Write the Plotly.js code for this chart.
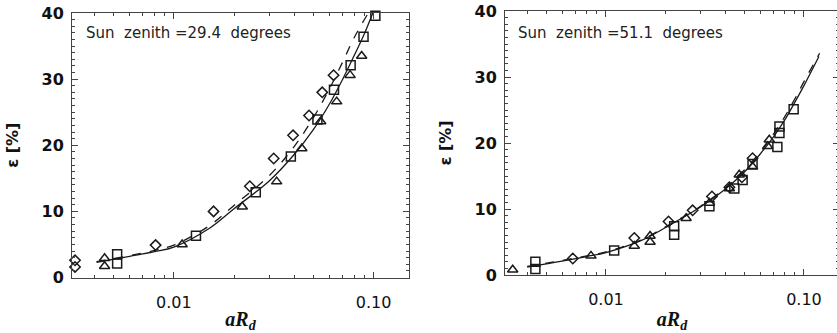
<!DOCTYPE html>
<html>
<head>
<meta charset="utf-8">
<script src="https://cdn.plot.ly/plotly-3.0.1.min.js"></script>
<style>
html,body{margin:0;padding:0;overflow:hidden;background:#fff;}
#chart{width:840px;height:333px;}
</style>
</head>
<body>
<div id="chart"></div>
<script>
// ---- Left panel (sun zenith 29.4) ----
const diamondsL_x = [0.0032, 0.0032, 0.0081, 0.0158, 0.0240, 0.0316, 0.0395, 0.0475, 0.0553, 0.063];
const diamondsL_y = [2.6, 1.6, 4.9, 10.0, 13.8, 18.0, 21.5, 24.5, 28.0, 30.6];
const squaresL_x = [0.0052, 0.0052, 0.0129, 0.0257, 0.0385, 0.0523, 0.0633, 0.0767, 0.089, 0.102];
const squaresL_y = [3.5, 2.1, 6.3, 12.9, 18.3, 23.9, 28.4, 32.1, 36.4, 39.6];
const trianglesL_x = [0.0045, 0.0045, 0.011, 0.022, 0.0327, 0.0437, 0.0543, 0.0653, 0.0762, 0.0871];
const trianglesL_y = [2.9, 1.7, 5.0, 10.7, 14.5, 19.5, 23.6, 26.6, 30.6, 33.5];
const solidL_x = [0.0041, 0.006, 0.008, 0.01, 0.015, 0.02, 0.03, 0.04, 0.05, 0.06, 0.07, 0.08, 0.09, 0.099];
const solidL_y = [2.3, 3.2, 3.9, 4.6, 7.4, 10.4, 14.6, 18.6, 22.4, 26.2, 30.0, 33.6, 36.9, 40.0];
const dashedL_x = [0.0041, 0.006, 0.008, 0.01, 0.015, 0.02, 0.03, 0.04, 0.05, 0.06, 0.07, 0.08, 0.094];
const dashedL_y = [2.4, 3.3, 4.1, 4.9, 7.8, 10.9, 15.4, 19.8, 24.2, 28.5, 32.6, 36.3, 40.0];

// ---- Right panel (sun zenith 51.1) ----
const diamondsR_x = [0.0068, 0.0139, 0.0207, 0.0274, 0.0343, 0.042, 0.0486, 0.055];
const diamondsR_y = [2.5, 5.6, 8.1, 9.8, 11.9, 13.3, 14.8, 17.7];
const squaresR_x = [0.0044, 0.0044, 0.011, 0.0221, 0.0221, 0.0333, 0.0445, 0.049, 0.055, 0.0734, 0.0752, 0.0752, 0.0887];
const squaresR_y = [2.0, 0.9, 3.7, 6.1, 7.4, 10.4, 13.1, 14.4, 16.8, 19.4, 21.5, 22.5, 25.1];
const trianglesR_x = [0.00338, 0.0084, 0.0139, 0.0167, 0.0167, 0.0254, 0.0333, 0.042, 0.0471, 0.055, 0.0656, 0.0668];
const trianglesR_y = [0.8, 2.9, 4.4, 5.9, 5.0, 8.6, 10.9, 13.1, 15.2, 16.4, 19.5, 20.5];
const solidR_x = [0.004, 0.006, 0.008, 0.01, 0.015, 0.02, 0.03, 0.04, 0.05, 0.06, 0.07, 0.08, 0.09, 0.1, 0.119];
const solidR_y = [1.2, 2.1, 2.8, 3.4, 5.2, 7.2, 10.3, 13.0, 15.6, 18.3, 20.9, 23.5, 26.2, 28.7, 33.1];
const dashedR_x = [0.004, 0.006, 0.008, 0.01, 0.015, 0.02, 0.03, 0.04, 0.05, 0.06, 0.07, 0.08, 0.09, 0.1, 0.12];
const dashedR_y = [1.3, 2.2, 2.9, 3.5, 5.3, 7.3, 10.4, 13.2, 15.9, 18.6, 21.3, 24.0, 26.7, 29.3, 33.6];

const panelTitles = ["Sun  zenith =29.4  degrees", "Sun  zenith =51.1  degrees"];
const xTickVals = [0.01, 0.1];
const xTickText = ["0.01", "0.10"];
const yTickVals = [0, 10, 20, 30, 40];

const ink = "#1a1a1a";
function marks(x, y, sym, size, xa, ya) {
  return {x, y, xaxis: xa, yaxis: ya, type: "scatter", mode: "markers", cliponaxis: false,
    marker: {symbol: sym, size: size, color: ink, line: {color: ink, width: 1.5}}, showlegend: false, hoverinfo: "skip"};
}
function curve(x, y, dash, xa, ya) {
  return {x, y, xaxis: xa, yaxis: ya, type: "scatter", mode: "lines",
    line: {color: ink, width: 1.3, dash: dash, shape: "spline", smoothing: 1}, showlegend: false, hoverinfo: "skip"};
}

const data = [
  curve(solidL_x, solidL_y, "solid", "x", "y"),
  curve(dashedL_x, dashedL_y, "dash", "x", "y"),
  marks(diamondsL_x, diamondsL_y, "diamond-open", 8, "x", "y"),
  marks(squaresL_x, squaresL_y, "square-open", 9, "x", "y"),
  marks(trianglesL_x, trianglesL_y, "triangle-up-open", 9, "x", "y"),
  curve(solidR_x, solidR_y, "solid", "x2", "y2"),
  curve(dashedR_x, dashedR_y, "dash", "x2", "y2"),
  marks(diamondsR_x, diamondsR_y, "diamond-open", 8, "x2", "y2"),
  marks(squaresR_x, squaresR_y, "square-open", 9, "x2", "y2"),
  marks(trianglesR_x, trianglesR_y, "triangle-up-open", 9, "x2", "y2")
];

function xAxis(domain, anchor) {
  return {
    type: "log", domain: domain, anchor: anchor, range: [-2.51, -0.823],
    tickvals: xTickVals, ticktext: xTickText, ticks: "inside", ticklen: 6, tickwidth: 1, tickcolor: "#444",
    minor: {ticks: "inside", ticklen: 3, tickcolor: "#444", dtick: "D1", showgrid: false},
    showline: true, linecolor: "#444", linewidth: 1, mirror: "ticks", showgrid: false, zeroline: false,
    tickfont: {family: "DejaVu Sans", size: 16, color: "#111"}, ticklabelstandoff: 10,
    title: {text: "<i>aR</i><sub><i>d</i></sub>", font: {family: "Liberation Serif", size: 20, color: "#111", weight: "bold"}, standoff: 6}
  };
}
function yAxis(domain, anchor) {
  return {
    domain: domain, anchor: anchor, range: [0, 40],
    tickvals: yTickVals, ticks: "inside", ticklen: 6, tickwidth: 1, tickcolor: "#444",
    minor: {ticks: "inside", ticklen: 3, tickcolor: "#444", dtick: 1, showgrid: false},
    showline: true, linecolor: "#444", linewidth: 1, mirror: "ticks", showgrid: false, zeroline: false,
    tickfont: {family: "DejaVu Sans", size: 16, color: "#111", weight: "bold"}, ticklabelstandoff: 4,
    title: {text: "ε [%]", font: {family: "DejaVu Sans", size: 16, color: "#111", weight: "bold"}, standoff: 18}
  };
}

const layout = {
  width: 840, height: 333,
  margin: {l: 0, r: 0, t: 0, b: 0},
  paper_bgcolor: "#fff", plot_bgcolor: "#fff",
  xaxis: xAxis([72/840, 409/840], "y"),
  yaxis: yAxis([1 - 277.5/333, 1 - 13/333], "x"),
  xaxis2: xAxis([505/840, 839/840], "y2"),
  yaxis2: yAxis([1 - 275/333, 1 - 11/333], "x2"),
  annotations: [
    {text: panelTitles[0], xref: "paper", yref: "paper", x: 84/840, y: 1 - 33/333, xanchor: "left", yanchor: "middle", showarrow: false,
     font: {family: "DejaVu Sans", size: 15, color: "#222"}},
    {text: panelTitles[1], xref: "paper", yref: "paper", x: 516/840, y: 1 - 33/333, xanchor: "left", yanchor: "middle", showarrow: false,
     font: {family: "DejaVu Sans", size: 15, color: "#222"}}
  ]
};

Plotly.newPlot("chart", data, layout, {staticPlot: true, displayModeBar: false});
</script>
</body>
</html>
